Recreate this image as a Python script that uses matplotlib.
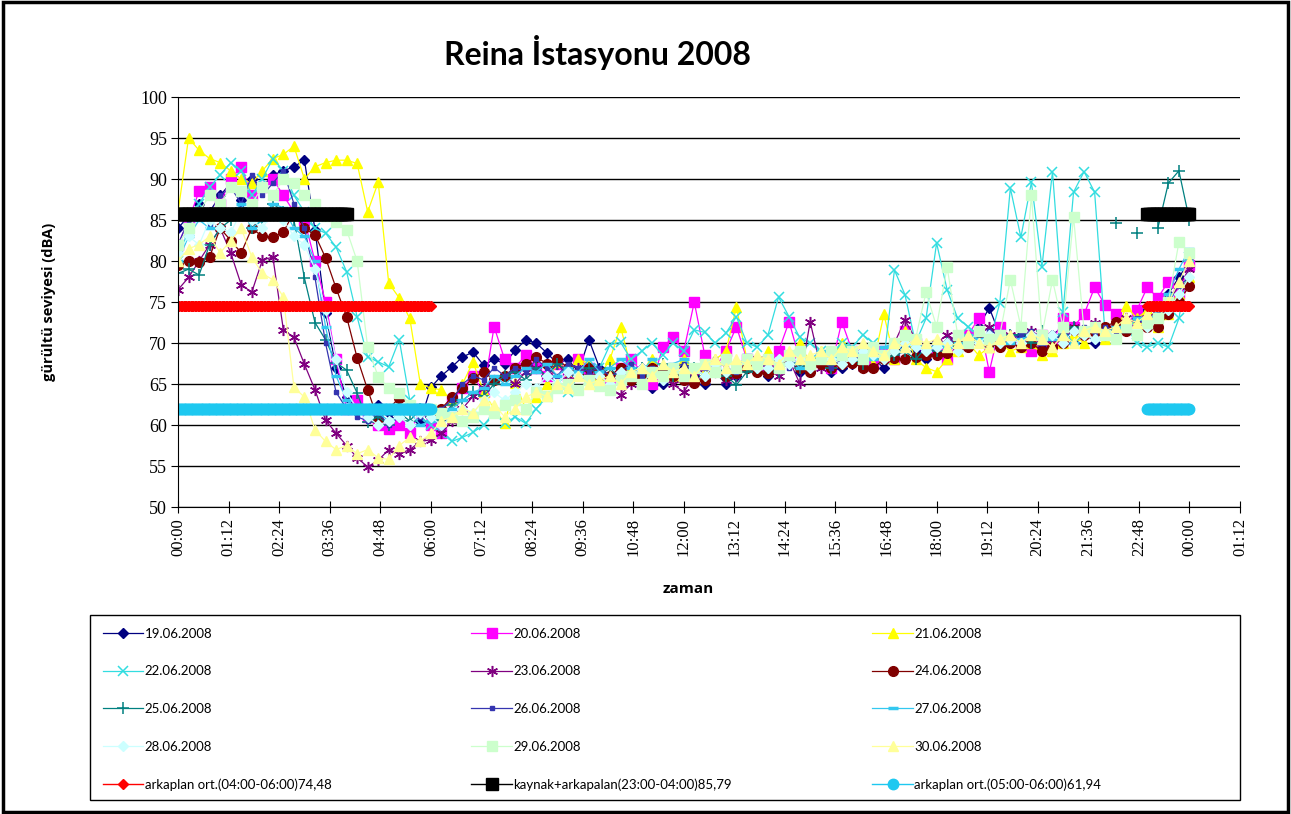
import numpy as np
import matplotlib.pyplot as plt
from matplotlib.patches import Rectangle

# 15-minute samples, 00:00 .. 24:00
hours = np.arange(97) * 0.25
nan = np.nan

d19 = [84, 85.5, 87, 86, 88, 89.5, 87.5, 90,
       89, 90.5, 91, 91.5, 92.3, 83.8, 73.7, 67,
       63.4, 62, 61, 62.5, 61.5, 60, 59.1, 60.5,
       64.6, 66, 67.1, 68.3, 68.9, 67.3, 68, 67.5,
       69.1, 70.4, 70, 68.8, 67.5, 68, 66.5, 70.4,
       67, 66, 65.5, 66.5, 67, 64.5, 65, 66,
       67.5, 66, 65, 66.5, 65, 66, 67, 66.5,
       66, 67, 68, 66.5, 67, 68, 66.5, 67,
       67.5, 69, 68, 67, 68.5, 70, 69, 68,
       69, 70, 71, 70.5, 72, 74.3, 71, 70,
       71, 70.5, 69.5, 71, 72, 70, 71.5, 70,
       71, 72, 71.5, 73, 74, 74.5, 76, 78,
       80]
d20 = [82, 85, 88.5, 89, 87, 90, 91.5, 88,
       89, 90, 88, 86, 85, 80, 75, 68,
       62, 63, 61, 60, 59.5, 60, 59, 62,
       60, 59, 63, 64.5, 66, 64, 72, 68,
       67, 68.5, 67, 66, 67.5, 66, 68, 67,
       66, 65.5, 67, 68, 66.5, 65, 69.5, 70.7,
       69, 75, 68.5, 67, 69, 72, 68, 67,
       67, 69, 72.6, 68, 67.5, 68, 67, 72.6,
       69, 68, 67.5, 69, 68, 71.5, 70, 69,
       69, 68, 70, 71, 73, 66.5, 72, 70.5,
       70, 69, 71, 70, 73, 72, 73.5, 76.8,
       74.6, 73.5, 72, 74, 76.8, 75.5, 77.5, 76,
       79.5]
d21 = [86, 95, 93.5, 92.5, 92, 91, 90, 89.5,
       91, 92.5, 93, 94, 90, 91.5, 92, 92.3,
       92.3, 91.9, 86, 89.6, 77.3, 75.5, 73, 65,
       64.5, 64.3, 63, 65, 67.7, 64, 62, 60.2,
       65.1, 62, 63.4, 65, 67.7, 66, 68, 67.5,
       66, 68, 72, 67, 66.5, 68, 67, 66,
       68, 67, 66.5, 68, 69, 74.4, 68, 67,
       69, 67, 68, 70, 67.5, 69, 68, 70,
       68, 69, 67.5, 73.5, 68, 71.5, 68, 67,
       66.5, 68, 69, 70, 68.5, 69.5, 70, 69,
       69.5, 70, 68.5, 69, 70, 71, 70, 72,
       70.5, 71, 74.5, 73, 74, 72, 73.5, 76,
       78]
d22 = [80, 84, 87, 89, 90.5, 92, 91, 88,
       90, 92.5, 91, 88, 86, 84, 83.4, 81.7,
       78.7, 73.2, 68.3, 67.7, 67.1, 70.4, 63, 61,
       60, 59, 58, 58.5, 59.1, 60, 61.5, 60.2,
       61, 60.2, 62, 63.4, 65, 64, 66, 65.5,
       67, 69.8, 70.1, 68, 69, 70, 68.5, 70,
       69, 71.6, 71.3, 70, 71.2, 73.2, 70, 69.5,
       71, 75.6, 73.2, 70.7, 70, 69, 68.5, 70,
       69.5, 71, 70, 68, 78.9, 75.9, 70, 73,
       82.2, 76.5, 73, 72, 71, 70, 74.9, 88.9,
       82.9, 89.6, 79.3, 90.9, 73.8, 88.4, 90.9, 88.4,
       71, 70.5, 72, 70, 69.5, 70, 69.5, 73,
       80.5]
d23 = [76.5, 78, 80, 82, 84, 81, 77.1, 76.2,
       80.1, 80.5, 71.6, 70.7, 67.4, 64.3, 60.6, 59,
       57.5, 56, 54.9, 55.7, 57, 56.5, 57, 58,
       58.2, 59, 60.5, 62, 63.5, 64.5, 65.5, 66,
       65, 66.5, 67, 66, 67.5, 66, 67, 66.5,
       65.5, 64.5, 63.7, 65, 66, 67, 66.5, 65,
       64, 66, 67, 66.5, 65.5, 66, 67, 68,
       67, 66, 68, 65.1, 72.6, 67, 68, 67.5,
       68, 67, 69, 68.5, 70, 72.8, 70.5, 69,
       70, 71, 69.5, 70, 71, 72, 70.5, 71,
       70, 71.5, 70, 70.5, 71, 72, 71, 72.5,
       71, 72, 73, 72.5, 73, 74, 75, 77,
       79]
d24 = [79.5, 80, 79.9, 80.5, 84, 82.5, 81, 84,
       83, 82.9, 83.5, 86, 84, 83.2, 80.4, 76.7,
       73.2, 68.2, 64.3, 60.6, 62, 63.3, 62.5, 61.8,
       61.2, 62, 63.4, 64.5, 65.7, 66.5, 65.5, 66,
       67, 67.5, 68.3, 67.5, 68, 67, 66.1, 67,
       66.5, 66, 67, 65.5, 66, 67, 66.5, 66,
       65.5, 65.1, 65.5, 66.5, 66, 66.3, 67, 66.5,
       66.3, 67, 68.3, 67, 66.5, 67.5, 67, 67.5,
       67.6, 67, 67, 68, 68.2, 68, 68.3, 68.5,
       68.5, 68.8, 70.1, 69.5, 70.1, 70, 69.5, 70,
       69.5, 70, 69, 69.5, 70, 71.6, 71, 71.3,
       72, 72.6, 71.5, 71.2, 72, 72, 73.5, 75,
       77]
d25 = [78.5, 79, 78.3, 82, 84, 85, 86.5, 84,
       85, 87, 86, 85, 77.9, 72.5, 70.4, 67.6,
       66.7, 63.9, 60.4, 61, 60, 61.5, 60.5, 62,
       61, 60.5, 62.5, 63, 64, 63.5, 65, 66,
       66.5, 65.5, 67, 66, 67.5, 66.5, 66, 67,
       66, 67, 65.5, 66.5, 67, 66, 67.5, 66,
       66.5, 67, 66, 67.5, 66, 64.9, 66.5, 67,
       67, 66.5, 68, 67, 67.5, 68, 67, 68.5,
       68, 67.5, 69, 68, 68.5, 69, 68, 69.5,
       69, 70, 69.5, 70.5, 70, 71, 70.5, 71,
       71, 70, 71.5, 70.5, 71, 72, 71.5, 72,
       nan, 84.6, nan, 83.4, nan, 84, 89.5, 91,
       85]
d26 = [82, 85, 86, 84.5, 88, 89, 87, 90.5,
       88, 89.5, 91, 87, 84, 78, 70, 64,
       62, 61, 60.5, 61.5, 60, 61, 62, 61,
       61.5, 62, 63, 65, 66, 65.5, 67, 66,
       67, 66.5, 68, 67, 66, 67.5, 67, 66.5,
       67, 66, 66.5, 67.5, 66, 67, 66, 67,
       67.5, 66.5, 67, 68, 67, 66.5, 68, 67,
       67.5, 68, 67, 68.5, 67.5, 68, 67, 68,
       68.5, 68, 69, 68, 69.5, 71, 70, 69,
       69.5, 70, 70.5, 71, 70, 71.5, 71, 70.5,
       71, 71.5, 70, 71, 70.5, 71.5, 72, 71,
       72, 71.5, 72.5, 73, 72, 74, 75.5, 77,
       78]
d27 = [80, 83, 85, 84, 86, 85.5, 87, 84,
       85, 87, 86.5, 84, 83, 80, 72, 66,
       63, 62, 61, 61.5, 60.5, 61, 61.5, 60,
       60.5, 61, 62, 63, 64, 64.5, 66, 65,
       66, 67, 66.5, 67.5, 66, 67, 66.5, 68,
       66.5, 67, 68, 67, 66.5, 68, 67, 67.5,
       68, 67, 67.5, 66.5, 68, 67, 68.5, 67,
       68, 67.5, 68.5, 67, 68, 69, 68, 68.5,
       69, 68.5, 68, 69.5, 70, 69, 70.5, 69,
       70, 69.5, 70, 71, 70.5, 70, 71.5, 70,
       70.5, 71, 70, 70.5, 71.5, 70, 71, 72,
       71, 72, 71.5, 73, 72.5, 74, 76, 79,
       81.5]
d28 = [81, 83, 82, 85, 84, 83.5, 86, 85,
       84, 86, 85, 83, 82, 79, 74, 68,
       64, 62, 61, 60, 60.5, 61, 60, 61.5,
       61, 60, 61, 62, 61.5, 63, 64, 63,
       64, 65, 64.5, 66, 65, 66.5, 66, 65.5,
       66, 65, 66.5, 66, 67, 66, 65.5, 67,
       66.5, 67, 66, 67.5, 66.5, 67, 68, 67,
       67, 68, 67.5, 68, 67, 68.5, 68, 67.5,
       68, 69, 68.5, 68, 69, 70, 69.5, 69,
       69.5, 70, 69, 70.5, 70, 71, 70, 70.5,
       70, 71, 70.5, 71, 70, 71.5, 71, 70.5,
       71, 70.5, 72, 71.5, 72, 73, 74, 76,
       78]
d29 = [82, 84, 86, 88, 87, 89, 88.5, 87,
       89, 88, 90, 89.5, 88, 87, 85.5, 84.8,
       83.8, 80, 69.5, 65.9, 64.5, 63.9, 62.5, 62,
       62, 61.5, 61, 60.5, 61, 62, 61.5, 62.5,
       63, 62, 64, 63.5, 64.5, 65, 64.3, 65.5,
       64.8, 64.3, 65.5, 66, 65, 66.5, 66, 67,
       66, 67, 67.5, 66.5, 68, 67, 68, 67.5,
       68, 67, 68.5, 69, 67.5, 68, 69, 68.5,
       69, 68, 69.5, 68.5, 70, 71, 70.5, 76.2,
       72, 79.3, 71, 70, 71.5, 70.5, 71, 77.7,
       72, 88.0, 71, 77.7, 72, 85.4, 71.5, 72,
       71, 70.5, 72, 71, 72.5, 73, 75, 82.3,
       81]
d30 = [80, 81.5, 82, 83, 81, 82.5, 84, 80.5,
       78.5, 77.7, 75.6, 64.6, 63.4, 59.4, 58, 57,
       57.5, 56.5, 57, 56, 55.8, 57.5, 58.5, 58,
       59, 60.5, 61, 62, 61.5, 63, 62.5, 61,
       62, 63.4, 64, 63.5, 65, 64.5, 66, 65,
       65.5, 66, 65, 66.5, 67, 66, 67.5, 66.5,
       67, 66, 67.5, 68, 67, 68, 67.5, 68.5,
       68, 67.5, 69, 68, 68.5, 69, 68, 69.5,
       69, 70, 69, 68.5, 70, 69.5, 70.5, 70,
       70.5, 69.5, 70, 71, 70, 69.5, 70.5, 71,
       70, 71, 70.5, 69.5, 71, 70, 71.5, 72,
       71.5, 72, 73, 72.5, 73.5, 74.5, 75, 77.5,
       80]

series_labels = ['19.06.2008', '20.06.2008', '21.06.2008', '22.06.2008',
                 '23.06.2008', '24.06.2008', '25.06.2008', '26.06.2008',
                 '27.06.2008', '28.06.2008', '29.06.2008', '30.06.2008']
series_data = [d19, d20, d21, d22, d23, d24, d25, d26, d27, d28, d29, d30]

# background averages (value, spans in hours)
ref_labels = ['arkaplan ort.(04:00-06:00)74,48',
              'kaynak+arkapalan(23:00-04:00)85,79',
              'arkaplan ort.(05:00-06:00)61,94']
ref_values = [74.48, 85.79, 61.94]
ref_spans = [[(0, 6), (23, 24)], [(0, 4), (23, 24)], [(0, 6), (23, 24)]]

xtick_labels = ['00:00', '01:12', '02:24', '03:36', '04:48', '06:00', '07:12',
                '08:24', '09:36', '10:48', '12:00', '13:12', '14:24', '15:36',
                '16:48', '18:00', '19:12', '20:24', '21:36', '22:48', '00:00',
                '01:12']

styles = [
    dict(color='#000080', marker='D', ms=5.5),
    dict(color='#FF00FF', marker='s', ms=7),
    dict(color='#FFFF00', marker='^', ms=7),
    dict(color='#33DDE0', marker='x', ms=7, mew=1.1),
    dict(color='#800080', marker=(6, 2, 0), ms=8, mew=1.1),
    dict(color='#800000', marker='o', ms=7),
    dict(color='#008080', marker='+', ms=8, mew=1.1),
    dict(color='#3535B0', marker='s', ms=2.5),
    dict(color='#33C8F0', marker='_', ms=7, mew=2.5),
    dict(color='#CCFFFF', marker='D', ms=5.5),
    dict(color='#CCFFCC', marker='s', ms=7),
    dict(color='#FFFF99', marker='^', ms=7),
]
ref_styles = [
    dict(color='#FF0000', marker='D', ms=5, lw=1),
    dict(color='#000000', marker='s', ms=9, lw=1),
    dict(color='#1EC8F0', marker='o', ms=7.5, lw=1),
]

fig = plt.figure(figsize=(12.91, 8.14), dpi=100)
ax = fig.add_axes([0.1379, 0.3771, 0.8226, 0.5037])

handles = []
for data, lab, st in zip(series_data, series_labels, styles):
    h, = ax.plot(hours, data, lw=0.9, label=lab, **st)
    handles.append(h)

for val, spans, lab, st in zip(ref_values, ref_spans, ref_labels, ref_styles):
    for k, (a, b) in enumerate(spans):
        xs = np.arange(a, b + 1e-9, 1 / 30)
        h, = ax.plot(xs, np.full_like(xs, val), label=lab if k == 0 else None, **st)
        if k == 0:
            handles.append(h)

ax.set_xlim(0, 25.2)
ax.set_ylim(50, 100)
ax.set_xticks(np.arange(len(xtick_labels)) * 1.2)
ax.set_xticklabels(xtick_labels, rotation=90)
ax.set_yticks(range(50, 101, 5))
ax.tick_params(axis='x', direction='inout', length=8, pad=4,
               labelsize=12, labelfontfamily='Liberation Serif')
ax.tick_params(axis='y', direction='out', length=5, pad=3,
               labelsize=13, labelfontfamily='Liberation Serif')
ax.yaxis.grid(True, color='black', lw=1)
ax.set_axisbelow(True)
for s in ['top', 'right']:
    ax.spines[s].set_visible(False)

ax.set_xlabel('zaman', fontsize=11, fontweight='bold', family='Open Sans')
ax.xaxis.set_label_coords(0.48, -0.183)
ax.set_ylabel('gürültü seviyesi (dBA)', fontsize=10.5, fontweight='bold', family='Open Sans')
ax.yaxis.set_label_coords(-0.115, 0.5)

fig.text(0.4625, 0.936, 'Reina İstasyonu 2008', ha='center', va='center',
         fontsize=23, fontweight='bold', family='Lato')

order = []
for c in range(3):
    order += handles[c::3]
leg = fig.legend(handles=order, labels=[h.get_label() for h in order], ncol=3,
                 loc='upper left', bbox_to_anchor=(0.0697, 0.2445),
                 frameon=False, prop={'family': 'Lato', 'size': 9.5},
                 labelspacing=1.95, borderpad=0.95, handlelength=3.1,
                 handletextpad=0.1, columnspacing=10.6, borderaxespad=0)

# legend frame and outer chart frame
fig.patches.append(Rectangle((0.0697, 0.0172), 0.891, 0.2273, transform=fig.transFigure,
                             fill=False, edgecolor='black', lw=1))
fig.patches.append(Rectangle((0.002, 0.003), 0.996, 0.994, transform=fig.transFigure,
                             fill=False, edgecolor='black', lw=2.5))

fig.savefig('out.png', dpi=100)
